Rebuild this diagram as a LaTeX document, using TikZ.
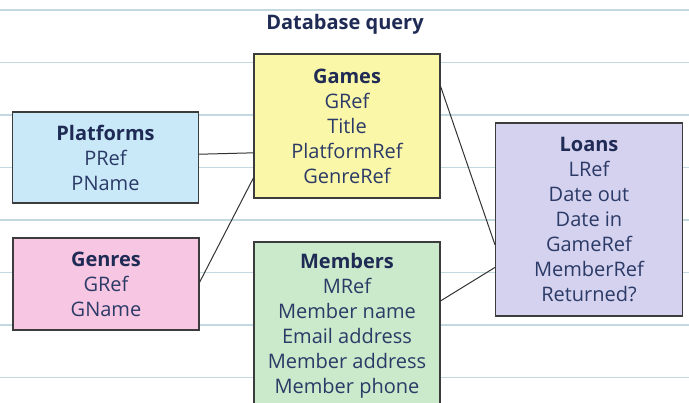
\documentclass[tikz,border=0pt]{standalone}
\usepackage{fontspec}
\newfontfamily\hand{Open Sans}
\definecolor{ruleline}{HTML}{C2D9E2}
\definecolor{ink}{HTML}{2B3A66}
\definecolor{headink}{HTML}{1F2B55}
\definecolor{boxedge}{HTML}{3C3C3C}
\definecolor{platfill}{HTML}{C9E9F8}
\definecolor{genfill}{HTML}{F7C6E2}
\definecolor{gamefill}{HTML}{FBF7A9}
\definecolor{memfill}{HTML}{CBE9CB}
\definecolor{loanfill}{HTML}{D4D2EE}
\tikzset{
  table/.style={draw=boxedge, line width=1.1pt, inner sep=0pt, align=center,
    text=ink, font=\hand\fontsize{20}{25}\selectfont},
  link/.style={draw=black!80, line width=1pt},
  rule/.style={draw=ruleline, line width=1.4pt},
}
\newcommand{\hd}[1]{{\bfseries\color{headink}#1}}
\begin{document}
\begin{tikzpicture}[x=1pt, y=-1pt]
  \useasboundingbox (0,0) rectangle (689,403);
  \clip (0,0) rectangle (689,403);
  \fill[white] (0,0) rectangle (689,403);
  % ruled paper
  \foreach \yy in {10,62.5,115,167.5,220,272.5,325,377.5}
    \draw[rule] (0,\yy) -- (689,\yy);
  % title
  \node[font=\hand\bfseries\fontsize{20}{22}\selectfont, text=headink] (title) at (345,24) {Database query};
  % tables
  \node[table, fill=platfill, minimum width=186pt, minimum height=91pt] (plat) at (105.5,157.5)
    {\hd{Platforms}\\PRef\\PName};
  \node[table, fill=genfill, minimum width=186pt, minimum height=92pt] (gen) at (106,284)
    {\hd{Genres}\\GRef\\GName};
  \node[table, fill=gamefill, minimum width=186pt, minimum height=144pt] (games) at (347,126)
    {\hd{Games}\\GRef\\Title\\PlatformRef\\GenreRef};
  \node[table, fill=memfill, minimum width=186pt, minimum height=168pt] (mem) at (347,326)
    {\hd{Members}\\MRef\\Member name\\Email address\\Member address\\Member phone};
  \node[table, fill=loanfill, minimum width=187pt, minimum height=193pt] (loans) at (589,219.5)
    {\hd{Loans}\\LRef\\Date out\\Date in\\GameRef\\MemberRef\\Returned?};
  % relationships
  \draw[link] (plat.2) -- (games.196);
  \draw[link] (gen.1) -- (games.209);
  \draw[link] (games.23) -- (loans.195);
  \draw[link] (mem.15) -- (loans.207);
\end{tikzpicture}
\end{document}
